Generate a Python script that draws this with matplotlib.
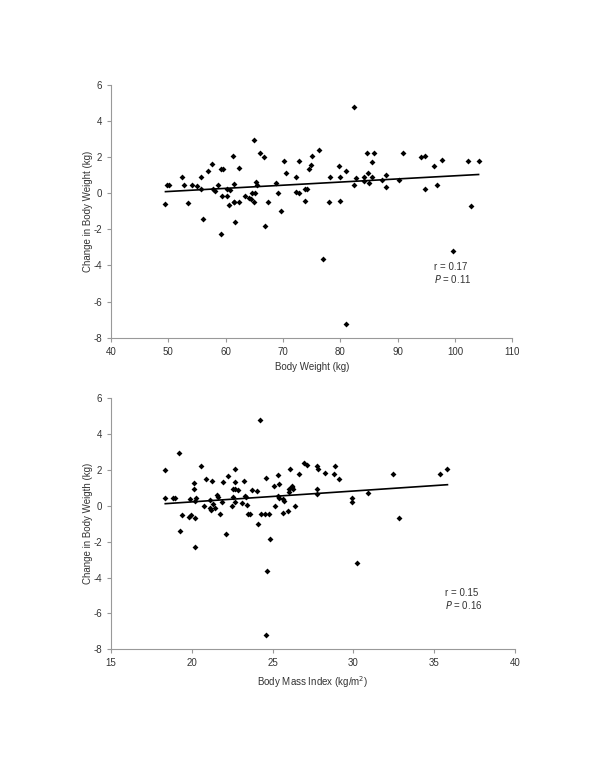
import numpy as np
import matplotlib
matplotlib.use('Agg')
import matplotlib.pyplot as plt

plt.rcParams['font.family'] = ['Liberation Sans', 'DejaVu Sans']
plt.rcParams['axes.unicode_minus'] = False

# body weight (kg) vs change in body weight (kg)
bw = [49.5, 49.8, 50.1, 52.3, 52.8, 53.4, 54.1, 55.0, 55.7, 55.7, 56.0, 56.9,
      57.6, 57.8, 58.1, 58.7, 59.1, 59.6, 59.1, 59.3, 60.2, 60.2, 60.5, 60.8,
      61.2, 61.4, 61.4, 61.5, 61.7, 62.3, 62.4, 63.4, 64.1, 64.4, 64.6, 65.1,
      65.0, 65.0, 65.3, 65.5, 65.9, 66.6, 66.9, 67.3, 68.8, 69.1, 69.7, 70.1,
      70.5, 72.3, 72.3, 72.7, 72.7, 73.8, 73.9, 74.1, 74.6, 74.8, 75.1, 76.2,
      76.9, 78.0, 78.2, 79.8, 80.0, 80.0, 80.9, 80.9, 82.3, 82.4, 82.8, 84.1,
      84.1, 84.6, 84.8, 85.0, 85.5, 85.5, 85.9, 87.2, 87.9, 88.0, 90.2, 91.0,
      94.1, 94.8, 94.8, 96.4, 96.9, 97.7, 99.6, 102.3, 102.8, 104.1]
dbw1 = [-0.61, 0.44, 0.44, 0.93, 0.44, -0.54, 0.44, 0.38, 0.90, 0.25, -1.43, 1.25,
        1.65, 0.22, 0.14, 0.44, 1.36, 1.36, -2.28, -0.15, -0.15, 0.23, -0.65, 0.18,
        2.04, 0.49, -0.49, -0.49, -1.61, -0.47, 1.40, -0.14, -0.25, -0.30, 0.0, 0.0,
        -0.47, 2.93, 0.64, 0.44, 2.26, 2.02, -1.83, -0.47, 0.55, 0.0, -1.00, 1.80,
        1.14, 0.90, 0.05, 0.0, 1.80, -0.41, 0.25, 0.22, 1.32, 1.58, 2.04, 2.39,
        -3.64, -0.47, 0.90, 1.49, 0.93, -0.41, -7.25, 1.25, 0.44, 4.79, 0.84, 0.93,
        0.66, 2.26, 1.14, 0.55, 1.71, 0.90, 2.21, 0.73, 0.34, 0.99, 0.75, 2.21,
        2.02, 2.08, 0.25, 1.49, 0.44, 1.84, -3.20, 1.80, -0.69, 1.80]

# body mass index vs change in body weight
bmi = [18.36, 18.36, 18.86, 18.96, 19.21, 19.25, 19.39, 19.81, 19.93, 19.87,
       20.14, 20.14, 20.18, 20.18, 20.22, 20.28, 20.59, 20.75, 20.88, 21.11,
       21.11, 21.21, 21.25, 21.31, 21.46, 21.58, 21.60, 21.75, 21.87, 21.91,
       22.10, 22.22, 22.49, 22.57, 22.57, 22.65, 22.65, 22.65, 22.67, 22.88,
       23.13, 23.21, 23.31, 23.33, 23.40, 23.46, 23.62, 23.75, 24.01, 24.10,
       24.20, 24.28, 24.51, 24.76, 24.57, 24.59, 24.65, 24.86, 25.11, 25.17,
       25.33, 25.40, 25.37, 25.42, 25.62, 25.66, 25.73, 25.95, 26.00, 26.04,
       26.10, 26.18, 26.22, 26.26, 26.37, 26.67, 26.92, 27.13, 27.77, 27.83,
       27.77, 27.77, 28.22, 28.78, 28.86, 29.11, 29.89, 29.89, 30.26, 30.90,
       32.49, 32.80, 35.38, 35.83]
dbw2 = [2.02, 0.44, 0.44, 0.44, 2.93, -1.42, -0.51, -0.60, -0.53, 0.38,
        1.26, 0.94, -0.66, -2.27, 0.27, 0.46, 2.24, 0.0, 1.48, 0.33,
        -0.10, -0.21, 1.37, 0.12, -0.12, 0.62, 0.50, -0.45, 0.23, 1.31,
        -1.59, 1.65, 0.0, 0.48, 0.92, 0.92, 2.04, 0.23, 1.35, 0.91,
        0.16, 1.40, 0.57, 0.48, 0.03, -0.47, -0.47, 0.90, 0.84, -1.01,
        4.80, -0.43, -0.47, -0.47, -7.22, 1.58, -3.65, -1.83, 1.12, 0.0,
        1.70, 1.24, 0.55, 0.42, -0.41, 0.37, 0.26, -0.29, 0.92, 0.79,
        2.04, 1.12, 1.03, 0.96, 0.0, 1.79, 2.39, 2.26, 2.20, 2.07,
        0.94, 0.66, 1.83, 1.79, 2.20, 1.48, 0.46, 0.22, -3.19, 0.71,
        1.79, -0.69, 1.79, 2.04]

# trend lines: (slope, intercept)
fit1 = (0.0174, -0.77)
fit2 = (0.0606, -0.99)

fig = plt.figure(figsize=(6, 7.77), dpi=100)
ax1 = fig.add_axes([0.185, 0.5654, 0.669, 0.3252])
ax2 = fig.add_axes([0.185, 0.1643, 0.673, 0.3231])

panels = [
    (ax1, bw, dbw1, fit1, (40, 110), 10, 'Body Weight (kg)',
     'Change in Body Weight (kg)', '0.17', '0.11', 96.3, -4.07),
    (ax2, bmi, dbw2, fit2, (15, 40), 5, r'Body Mass Index (kg/m$^2$)',
     'Change in Body Weigth (kg)', '0.15', '0.16', 35.67, -4.84),
]

for ax, x, y, fit, xlim, step, xl, yl, r, p, tx, ty in panels:
    x = np.array(x)
    ax.plot(x, y, 'D', color='black', ms=3.0, mew=0)
    xx = np.array([x.min(), x.max()])
    ax.plot(xx, fit[0] * xx + fit[1], color='black', lw=1.2)
    ax.set_xlim(*xlim)
    ax.set_ylim(-8, 6)
    ax.set_yticks(range(-8, 7, 2))
    ax.set_xticks(np.arange(xlim[0], xlim[1] + 1, step))
    for s in ['top', 'right']:
        ax.spines[s].set_visible(False)
    for s in ['left', 'bottom']:
        ax.spines[s].set_color('#999999')
        ax.spines[s].set_linewidth(0.8)
    ax.tick_params(colors='#999999', labelcolor='#333333', labelsize=7,
                   length=3, width=0.8)
    ax.set_xlabel(xl, fontsize=7, color='#333333', labelpad=4)
    ax.set_ylabel(yl, fontsize=7, color='#333333', labelpad=0)
    ax.text(tx, ty, 'r = ' + r, fontsize=7, color='#333333', va='center')
    ax.text(tx, ty - 0.67, r'$P$ = ' + p, fontsize=7, color='#333333',
            va='center')

fig.savefig('out.png', dpi=100)
